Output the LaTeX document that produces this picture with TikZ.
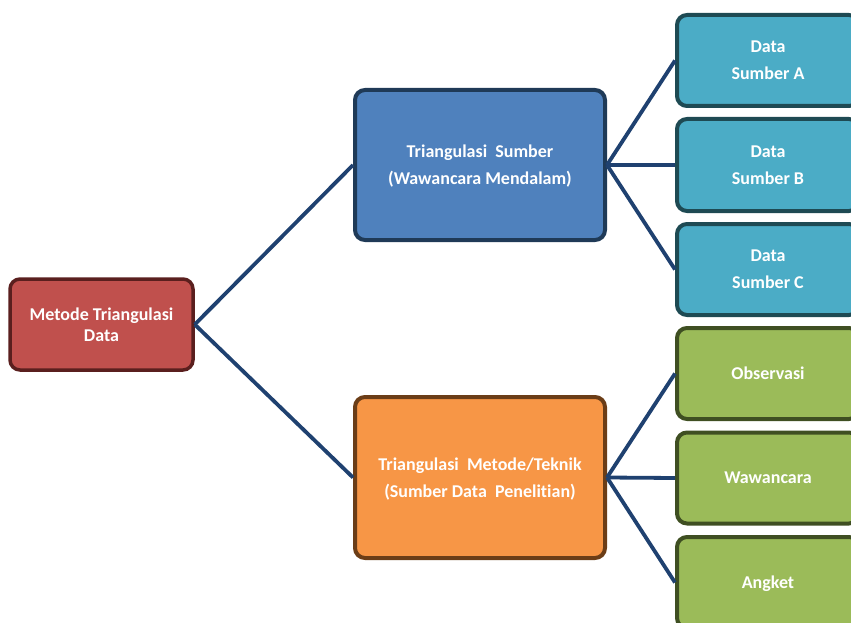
\documentclass[tikz,border=0pt]{standalone}
\usepackage{fontspec}
\setmainfont{Carlito}[RawFeature=-liga]
\definecolor{rootfill}{HTML}{C0504D}
\definecolor{rootline}{HTML}{5A1F1E}
\definecolor{bluefill}{HTML}{4F81BD}
\definecolor{blueline}{HTML}{1F3A57}
\definecolor{orfill}{HTML}{F79646}
\definecolor{orline}{HTML}{6B3D17}
\definecolor{tealfill}{HTML}{4BACC6}
\definecolor{tealline}{HTML}{1E4A53}
\definecolor{grfill}{HTML}{9BBB59}
\definecolor{grline}{HTML}{3F4F22}
\definecolor{connc}{HTML}{1F4170}
\tikzset{
  x=1pt, y=1pt,
  box/.style={rectangle, rounded corners=10pt, line width=4pt, text=white,
    font=\fontsize{18}{27}\selectfont\bfseries, align=center, inner sep=0pt,
    text depth=-2pt},
  rootbox/.style={box, fill=rootfill, draw=rootline, line width=3.5pt,
    font=\fontsize{18}{21}\selectfont\bfseries},
  bluebox/.style={box, fill=bluefill, draw=blueline},
  orbox/.style={box, fill=orfill, draw=orline},
  tealbox/.style={box, fill=tealfill, draw=tealline},
  grbox/.style={box, fill=grfill, draw=grline},
  conn/.style={draw=connc, line width=3.8pt}
}
\begin{document}
\begin{tikzpicture}
\useasboundingbox (0,0) rectangle (851,-623);
\clip (0,0) rectangle (851,-623);
\node[rootbox, minimum width=183, minimum height=91] (root) at (101.5,-324.5) {Metode Triangulasi\\Data};
\node[bluebox, minimum width=250, minimum height=150] (blue) at (480,-165) {Triangulasi\ \ Sumber\\(Wawancara Mendalam)};
\node[orbox, minimum width=250, minimum height=161] (orange) at (480,-477.5) {Triangulasi\ \ Metode/Teknik\\(Sumber Data\ \ Penelitian)};
\node[tealbox, minimum width=182, minimum height=91] (ta) at (768,-60.5) {Data\\Sumber A};
\node[tealbox, minimum width=182, minimum height=92] (tb) at (768,-165) {Data\\Sumber B};
\node[tealbox, minimum width=182, minimum height=91] (tc) at (768,-269.5) {Data\\Sumber C};
\node[grbox, minimum width=182, minimum height=91] (ga) at (768,-373.5) {Observasi};
\node[grbox, minimum width=182, minimum height=91] (gb) at (768,-478) {Wawancara};
\node[grbox, minimum width=182, minimum height=91] (gc) at (768,-582.5) {Angket};
\draw[conn] (root.east) -- (blue.west);
\draw[conn] (root.east) -- (orange.west);
\draw[conn] (blue.east) -- (ta.west);
\draw[conn] (blue.east) -- (tb.west);
\draw[conn] (blue.east) -- (tc.west);
\draw[conn] (orange.east) -- (ga.west);
\draw[conn] (orange.east) -- (gb.west);
\draw[conn] (orange.east) -- (gc.west);
\end{tikzpicture}
\end{document}
